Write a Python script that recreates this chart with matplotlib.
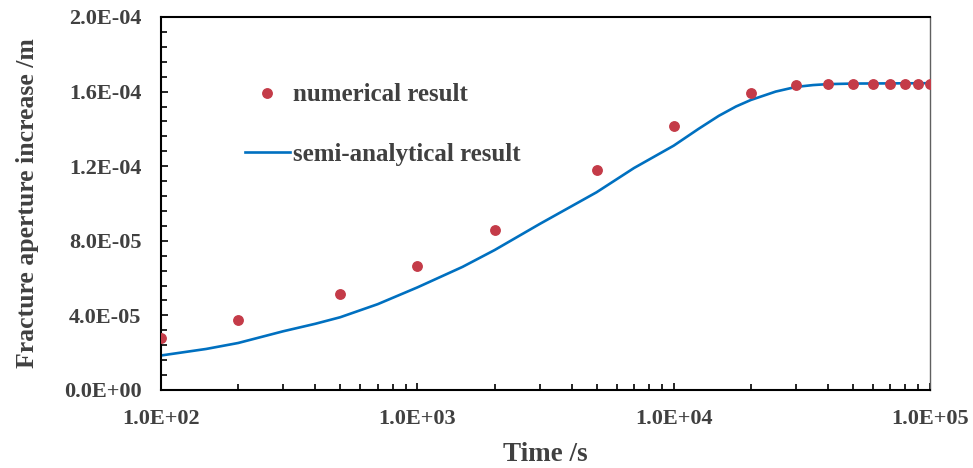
import matplotlib
matplotlib.use("Agg")
import matplotlib.pyplot as plt
from matplotlib.ticker import FixedLocator, LogLocator, MultipleLocator, NullFormatter

# numerical result (dots)
num_time = [100, 200, 500, 1000, 2000, 5000, 10000, 20000, 30000,
            40000, 50000, 60000, 70000, 80000, 90000, 100000]
num_aperture = [2.79e-5, 3.75e-5, 5.15e-5, 6.65e-5, 8.58e-5, 1.18e-4, 1.415e-4, 1.59e-4, 1.635e-4,
                1.64e-4, 1.64e-4, 1.64e-4, 1.64e-4, 1.64e-4, 1.64e-4, 1.64e-4]

# semi-analytical result (line)
semi_time = [100, 150, 200, 300, 400, 500, 700, 1000, 1500, 2000, 3000, 5000, 7000,
             10000, 12500, 15000, 17500, 20000, 25000, 30000, 35000, 40000, 50000,
             70000, 100000]
semi_aperture = [1.85e-5, 2.2e-5, 2.52e-5, 3.15e-5, 3.55e-5, 3.9e-5, 4.6e-5, 5.5e-5, 6.6e-5, 7.5e-5,
                 8.9e-5, 1.06e-4, 1.19e-4, 1.31e-4, 1.40e-4, 1.47e-4, 1.52e-4, 1.555e-4,
                 1.60e-4, 1.625e-4, 1.635e-4, 1.64e-4, 1.643e-4, 1.644e-4, 1.645e-4]

x_ticks = [1e2, 1e3, 1e4, 1e5]
x_ticklabels = ["1.0E+02", "1.0E+03", "1.0E+04", "1.0E+05"]
y_ticks = [0, 4e-5, 8e-5, 1.2e-4, 1.6e-4, 2e-4]
y_ticklabels = ["0.0E+00", "4.0E-05", "8.0E-05", "1.2E-04", "1.6E-04", "2.0E-04"]

txt = "#404040"
plt.rcParams["font.family"] = ["Liberation Serif", "DejaVu Serif"]
plt.rcParams["font.weight"] = "bold"

fig = plt.figure(figsize=(9.73, 4.68), dpi=100)
ax = fig.add_axes([0.1655, 0.1667, 0.7903, 0.797])

ax.plot(num_time, num_aperture, "o", color="#C43B48", markersize=6.8,
        linestyle="none", label="numerical result", zorder=3)
ax.plot(semi_time, semi_aperture, "-", color="#0070C0", linewidth=1.9,
        label="semi-analytical result", zorder=2)

ax.set_xscale("log")
ax.set_xlim(1e2, 1e5)
ax.set_ylim(0, 2e-4)

ax.xaxis.set_major_locator(FixedLocator(x_ticks))
ax.set_xticklabels(x_ticklabels)
ax.xaxis.set_minor_locator(LogLocator(base=10, subs=range(2, 10)))
ax.xaxis.set_minor_formatter(NullFormatter())
ax.yaxis.set_major_locator(FixedLocator(y_ticks))
ax.set_yticklabels(y_ticklabels)
ax.yaxis.set_minor_locator(MultipleLocator(8e-6))

ax.tick_params(which="both", direction="in", color="black", top=False, right=False)
ax.tick_params(which="major", length=5, width=1.2, labelsize=16, labelcolor=txt)
ax.tick_params(which="minor", length=4, width=1.2)
ax.tick_params(axis="x", which="major", pad=14)
ax.tick_params(axis="y", which="major", pad=14)

for s in ["left", "bottom", "top"]:
    ax.spines[s].set_color("black")
    ax.spines[s].set_linewidth(1.5)
ax.spines["right"].set_color("#606060")
ax.spines["right"].set_linewidth(1.0)

ax.set_xlabel("Time /s", fontsize=19.5, color=txt, fontweight="bold", labelpad=9)
ax.set_ylabel("Fracture aperture increase /m", fontsize=18.5, color=txt,
              fontweight="bold", labelpad=18)

leg = ax.legend(loc="upper left", bbox_to_anchor=(0.109, 0.822), frameon=False,
                fontsize=18, handlelength=1.8, handletextpad=0.12, labelspacing=1.45,
                borderpad=0, borderaxespad=0)
for t in leg.get_texts():
    t.set_color(txt)

fig.savefig("out.png", dpi=100)
